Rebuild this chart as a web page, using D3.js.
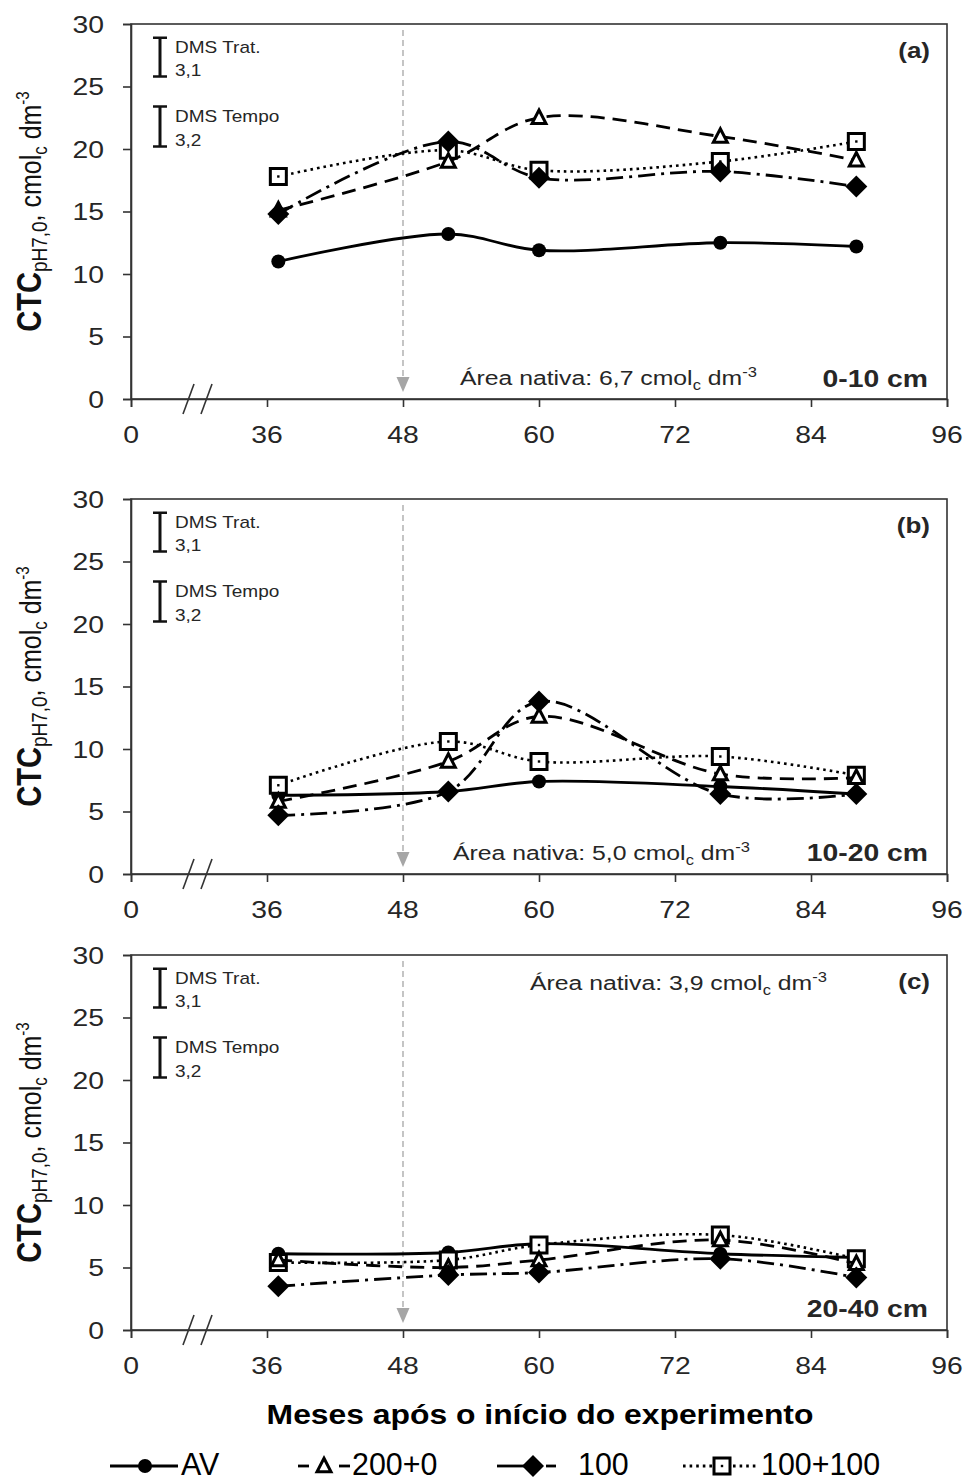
<!DOCTYPE html>
<html><head><meta charset="utf-8">
<script src="https://cdn.jsdelivr.net/npm/d3@7"></script>
<style>body{margin:0;background:#fff} svg{display:block;font-family:"Liberation Sans",Arial,sans-serif}</style>
</head><body>
<svg id="chart" width="968" height="1483"></svg>
<script>
// ---------- data ----------
const months = [37, 52, 60, 76, 88];
const xTickValues = [24, 36, 48, 60, 72, 84, 96];
const xTickLabels = ["0", "36", "48", "60", "72", "84", "96"];
const yTickValues = [0, 5, 10, 15, 20, 25, 30];
const seriesNames = ["AV", "200+0", "100", "100+100"];
const panelLetters = ["(a)", "(b)", "(c)"];
const depthLabels = ["0-10 cm", "10-20 cm", "20-40 cm"];
const nativeValues = ["6,7", "5,0", "3,9"];
const dmsTrat = 3.1;
const dmsTempo = 3.2;
const dmsLabels = ["3,1", "3,2"];
const markMonth = 48;

// panel (a) 0-10 cm
const avA   = [11.0, 13.2, 11.9, 12.5, 12.2];
const t200A = [15.1, 19.0, 22.5, 21.0, 19.1];
const d100A = [14.8, 20.6, 17.7, 18.2, 17.0];
const s100A = [17.8, 19.9, 18.3, 19.0, 20.6];
// panel (b) 10-20 cm
const avB   = [6.3, 6.6, 7.4, 7.0, 6.4];
const t200B = [5.8, 9.0, 12.6, 8.0, 7.7];
const d100B = [4.7, 6.6, 13.8, 6.4, 6.4];
const s100B = [7.1, 10.6, 9.0, 9.4, 7.9];
// panel (c) 20-40 cm
const avC   = [6.1, 6.2, 6.9, 6.1, 5.8];
const t200C = [5.6, 5.0, 5.6, 7.2, 5.3];
const d100C = [3.5, 4.4, 4.6, 5.7, 4.2];
const s100C = [5.4, 5.6, 6.8, 7.6, 5.7];

const panelData = [
  [avA, t200A, d100A, s100A],
  [avB, t200B, d100B, s100B],
  [avC, t200C, d100C, s100C]
];

// ---------- layout ----------
const SX = 1.18;
const left = 131, right = 947;
const panelTops = [24, 499, 955];
const plotH = 375;
const ink = "#262626";

const svg = d3.select("#chart");
const x = d3.scaleLinear().domain([24, 96]).range([left, right]);

function stext(g, px, py, sx) {
  return g.append("text").attr("transform", `translate(${px},${py}) scale(${sx || SX},1)`).attr("fill", ink);
}

const seriesStyle = [
  { dash: null, marker: "circle" },
  { dash: "14,8", marker: "triangle" },
  { dash: "17,6,3,6", marker: "diamond" },
  { dash: "2.6,4", marker: "square" }
];

function drawMarker(g, type, cx, cy) {
  if (type === "circle") {
    g.append("circle").attr("cx", cx).attr("cy", cy).attr("r", 7).attr("fill", "#000");
  } else if (type === "diamond") {
    const r = 11;
    g.append("path").attr("d", `M${cx},${cy - r}L${cx + r},${cy}L${cx},${cy + r}L${cx - r},${cy}Z`).attr("fill", "#000");
  } else if (type === "triangle") {
    const h = 13, w = 14;
    g.append("path").attr("d", `M${cx},${cy - h * 0.6}L${cx + w / 2},${cy + h * 0.45}L${cx - w / 2},${cy + h * 0.45}Z`)
      .attr("fill", "#fff").attr("stroke", "#000").attr("stroke-width", 3).attr("stroke-linejoin", "miter");
  } else if (type === "square") {
    const s = 16;
    g.append("rect").attr("x", cx - s / 2).attr("y", cy - s / 2).attr("width", s).attr("height", s)
      .attr("fill", "#fff").attr("stroke", "#000").attr("stroke-width", 3);
    g.append("rect").attr("x", cx - 1.2).attr("y", cy - 1.2).attr("width", 2.4).attr("height", 2.4).attr("fill", "#000");
  }
}

panelTops.forEach((top, pi) => {
  const bottom = top + plotH;
  const y = d3.scaleLinear().domain([0, 30]).range([bottom, top]);
  const g = svg.append("g");

  g.append("rect").attr("x", left).attr("y", top).attr("width", right - left).attr("height", plotH)
    .attr("fill", "none").attr("stroke", "#333").attr("stroke-width", 1.6);

  const yAxis = d3.axisLeft(y).tickValues(yTickValues).tickSize(8).tickFormat("");
  const ya = g.append("g").attr("transform", `translate(${left},0)`).call(yAxis);
  ya.select(".domain").attr("stroke", "#333").attr("stroke-width", 1.6);
  ya.selectAll(".tick line").attr("stroke", "#333").attr("stroke-width", 1.6);
  yTickValues.forEach(v => {
    stext(g, 104, y(v) + 8.5).attr("text-anchor", "end").attr("font-size", 24).text(v);
  });

  const xAxis = d3.axisBottom(x).tickValues(xTickValues).tickSize(8).tickFormat("");
  const xa = g.append("g").attr("transform", `translate(0,${bottom})`).call(xAxis);
  xa.select(".domain").attr("stroke", "#333").attr("stroke-width", 1.6);
  xa.selectAll(".tick line").attr("stroke", "#333").attr("stroke-width", 1.6);
  xTickValues.forEach((v, i) => {
    stext(g, x(v), bottom + 44).attr("text-anchor", "middle").attr("font-size", 24).text(xTickLabels[i]);
  });

  [183, 201].forEach(a => {
    g.append("line").attr("x1", a).attr("y1", bottom + 15).attr("x2", a + 11).attr("y2", bottom - 15)
      .attr("stroke", "#333").attr("stroke-width", 1.6);
  });

  const xm = x(markMonth);
  g.append("line").attr("x1", xm).attr("x2", xm).attr("y1", top + 6).attr("y2", bottom - 21)
    .attr("stroke", "#a6a6a6").attr("stroke-width", 1.3).attr("stroke-dasharray", "6,4");
  g.append("path").attr("d", `M${xm - 6.5},${bottom - 22}L${xm + 6.5},${bottom - 22}L${xm},${bottom - 7}Z`).attr("fill", "#a6a6a6");

  const dmsTop = [28.9, 23.4];
  [dmsTrat, dmsTempo].forEach((d, k) => {
    const y1 = y(dmsTop[k]), y2 = y(dmsTop[k] - d);
    g.append("line").attr("x1", 160).attr("x2", 160).attr("y1", y1).attr("y2", y2).attr("stroke", "#111").attr("stroke-width", 3);
    g.append("line").attr("x1", 153).attr("x2", 167).attr("y1", y1).attr("y2", y1).attr("stroke", "#111").attr("stroke-width", 2.5);
    g.append("line").attr("x1", 153).attr("x2", 167).attr("y1", y2).attr("y2", y2).attr("stroke", "#111").attr("stroke-width", 2.5);
    stext(g, 175, y1 + 15, 1.12).attr("font-size", 17).text(k === 0 ? "DMS Trat." : "DMS Tempo");
    stext(g, 175, y2 - 1, 1.12).attr("font-size", 17).text(dmsLabels[k]);
  });

  stext(g, 930, top + 34).attr("text-anchor", "end").attr("font-size", 22).attr("font-weight", "bold").text(panelLetters[pi]);
  const depthY = pi === 0 ? bottom - 12 : bottom - 13;
  stext(g, 928, depthY).attr("text-anchor", "end").attr("font-size", 24).attr("font-weight", "bold").text(depthLabels[pi]);
  const natPos = [[460, bottom - 14], [453, bottom - 14], [530, top + 35]][pi];
  const nt = stext(g, natPos[0], natPos[1]).attr("font-size", 21);
  nt.append("tspan").text("Área nativa:  " + nativeValues[pi] + " cmol");
  nt.append("tspan").attr("font-size", 14).attr("dy", 5).text("c");
  nt.append("tspan").attr("dy", -5).text(" dm");
  nt.append("tspan").attr("font-size", 14).attr("dy", -8).text("-3");

  const yl = g.append("text").attr("fill", "#111")
    .attr("transform", `translate(41,${(top + bottom) / 2}) scale(${SX},1) rotate(-90)`)
    .attr("text-anchor", "middle");
  yl.append("tspan").attr("font-size", 29).attr("font-weight", "bold").text("CTC");
  yl.append("tspan").attr("font-size", 19).attr("dy", 5).text("pH7,0");
  yl.append("tspan").attr("font-size", 25).attr("dy", -5).text(", cmol");
  yl.append("tspan").attr("font-size", 17).attr("dy", 5).text("c");
  yl.append("tspan").attr("font-size", 25).attr("dy", -5).text(" dm");
  yl.append("tspan").attr("font-size", 15).attr("dy", -10).text("-3");

  const line = d3.line().x((d, i) => x(months[i])).y(d => y(d)).curve(d3.curveCatmullRom.alpha(0.5));
  const order = [0, 3, 1, 2];
  order.forEach(si => {
    const vals = panelData[pi][si];
    const st = seriesStyle[si];
    g.append("path").attr("d", line(vals)).attr("fill", "none").attr("stroke", "#000")
      .attr("stroke-width", si === 3 ? 2.6 : 2.8).attr("stroke-dasharray", st.dash);
    vals.forEach((v, i) => drawMarker(g, st.marker, x(months[i]), y(v)));
  });
});

// x title
stext(svg, 540, 1424).attr("text-anchor", "middle").attr("font-size", 27).attr("font-weight", "bold").attr("fill", "#000")
  .text("Meses após o início do experimento");

// legend
const ly = 1466;
const legendItems = [
  { segs: [[110, 178]], mx: 145, tx: 181, dash: null },
  { segs: [[298, 309], [339, 350]], mx: 324, tx: 352, dash: null },
  { segs: [[497, 527], [546, 556]], mx: 533, tx: 578, dash: null },
  { segs: [[683, 712], [733, 758]], mx: 722, tx: 761, dash: "2.6,4" }
];
legendItems.forEach((it, si) => {
  const lg = svg.append("g");
  it.segs.forEach(([a, b]) => {
    lg.append("line").attr("x1", a).attr("x2", b).attr("y1", ly).attr("y2", ly)
      .attr("stroke", "#000").attr("stroke-width", 2.8).attr("stroke-dasharray", it.dash);
  });
  drawMarker(lg, seriesStyle[si].marker, it.mx, ly);
  stext(lg, it.tx, 1475, 0.98).attr("font-size", 31).attr("fill", "#000").text(seriesNames[si]);
});
</script>
</body></html>
